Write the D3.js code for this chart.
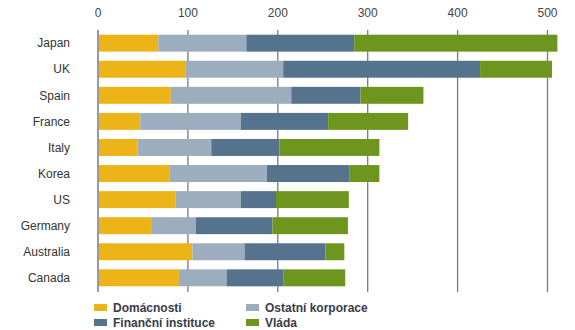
<!DOCTYPE html>
<html lang="cs">
<head>
    <meta charset="UTF-8">
    <title>Dluh podle sektorů</title>
    <script src="https://cdn.jsdelivr.net/npm/d3@7/dist/d3.min.js"></script>
    <style>
        body { margin: 0; background: #fff; }
        svg { display: block; }
    </style>
</head>
<body>
<script>
    // země a hodnoty jednotlivých sektorů (% HDP)
    var countries = ["Japan", "UK", "Spain", "France", "Italy", "Korea", "US", "Germany", "Australia", "Canada"];
    var domacnosti = [67, 97, 81, 47, 44, 80, 86, 60, 105, 90];
    var korporace  = [98, 109, 134, 112, 82, 108, 73, 49, 58, 53];
    var instituce  = [120, 219, 77, 97, 76, 92, 39, 85, 90, 63];
    var vlada      = [226, 80, 70, 89, 111, 33, 81, 84, 21, 69];
    var ticks = [0, 100, 200, 300, 400, 500];

    var seriesNames = ["Domácnosti", "Ostatní korporace", "Finanční instituce", "Vláda"];
    var colors = ["#ECB417", "#9CADBE", "#56738E", "#6E961E"];

    var width = 575, height = 330;
    var svg = d3.select("body").append("svg")
        .attr("width", width)
        .attr("height", height)
        .style("font-family", "Liberation Sans, Arial, sans-serif");

    // tabulka pro d3.stack
    var table = countries.map(function (c, i) {
        return { country: c, s0: domacnosti[i], s1: korporace[i], s2: instituce[i], s3: vlada[i] };
    });
    var stacked = d3.stack().keys(["s0", "s1", "s2", "s3"])(table);

    var x = d3.scaleLinear().domain([0, 500]).range([98, 547.5]);
    var y = d3.scaleBand().domain(countries).range([30, 291]).paddingInner(0.35).paddingOuter(0.18);

    // svislé čáry mřížky
    svg.append("g").selectAll("line")
        .data(ticks)
        .enter().append("line")
        .attr("x1", function (d) { return x(d); })
        .attr("x2", function (d) { return x(d); })
        .attr("y1", 30)
        .attr("y2", 292)
        .attr("stroke", function (d) { return d === 0 ? "#9a9a9a" : "#7a7a7a"; })
        .attr("stroke-width", function (d) { return d === 0 ? 2 : 1.3; });

    // popisky osy nahoře
    svg.append("g").selectAll("text")
        .data(ticks)
        .enter().append("text")
        .attr("x", function (d) { return x(d); })
        .attr("y", 17)
        .attr("text-anchor", "middle")
        .attr("font-size", 12)
        .attr("fill", "#444")
        .text(function (d) { return d; });

    // pruhy
    svg.append("g").selectAll("g")
        .data(stacked)
        .enter().append("g")
        .attr("fill", function (d, i) { return colors[i]; })
        .selectAll("rect")
        .data(function (d) { return d; })
        .enter().append("rect")
        .attr("x", function (d) { return x(d[0]) + (d[0] === 0 ? 1 : 0); })
        .attr("width", function (d) { return x(d[1]) - x(d[0]) - (d[0] === 0 ? 1 : 0); })
        .attr("y", function (d) { return y(d.data.country); })
        .attr("height", y.bandwidth());

    // názvy zemí
    svg.append("g").selectAll("text")
        .data(countries)
        .enter().append("text")
        .attr("x", 70)
        .attr("y", function (d) { return y(d) + y.bandwidth() / 2; })
        .attr("dy", "0.35em")
        .attr("text-anchor", "end")
        .attr("font-size", 12)
        .attr("fill", "#333")
        .text(function (d) { return d; });

    // legenda
    var legendPos = [[94, 304], [246, 304], [94, 319], [246, 319]];
    var legend = svg.append("g").selectAll("g")
        .data(seriesNames)
        .enter().append("g")
        .attr("transform", function (d, i) { return "translate(" + legendPos[i][0] + "," + legendPos[i][1] + ")"; });
    legend.append("rect")
        .attr("width", 13)
        .attr("height", 7)
        .attr("fill", function (d, i) { return colors[i]; });
    legend.append("text")
        .attr("x", 19)
        .attr("y", 8)
        .attr("font-size", 12)
        .attr("font-weight", "bold")
        .attr("fill", "#3a3a48")
        .text(function (d) { return d; });
</script>
</body>
</html>
